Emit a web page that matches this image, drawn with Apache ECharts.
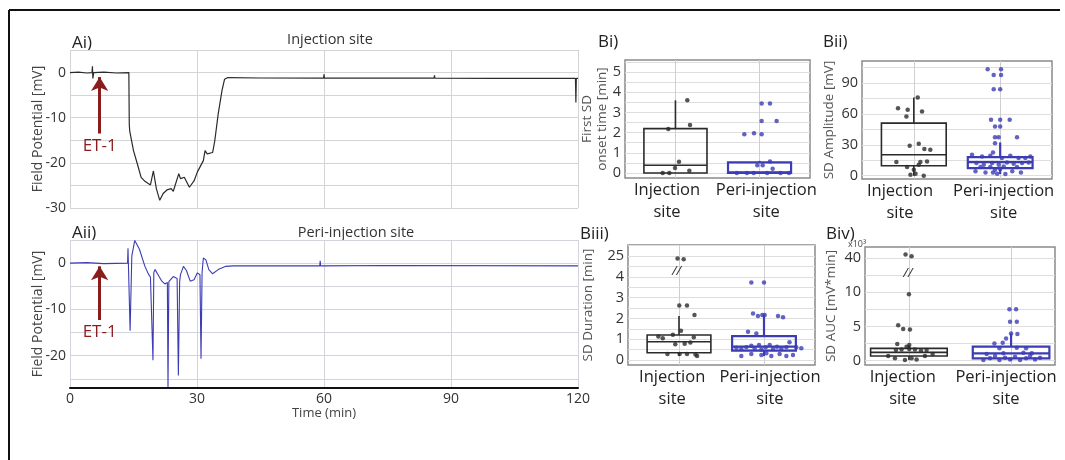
<!DOCTYPE html>
<html>
<head>
<meta charset="UTF-8">
<script src="https://cdn.jsdelivr.net/npm/echarts@6.0.0/dist/echarts.min.js"></script>
</head>
<body style="margin:0;background:#fff">
<div id="main" style="width:1065px;height:460px;"></div>
<script>
// ---- A: field potential traces (time in min, potential in mV)
var aiTime = [0, 2, 4, 5.2, 5.3, 5.4, 5.6, 8, 11, 13.9, 14.0, 14.1, 15.0, 15.9, 16.8, 17.7, 19.0, 19.7, 20.4, 21.2,
  22.0, 22.9, 23.9, 24.4, 25.7, 26.1, 27.0, 28.2, 29.3, 30.1, 31.5, 31.9, 32.4, 33.7, 34.2, 35.0, 35.9, 36.5, 37.3, 45,
  59.9, 60.0, 60.1, 75, 86.0, 86.1, 86.2, 100, 119.4, 119.5, 119.6, 120];
var aiMv = [0, 0.1, -0.1, 0, 1.4, -1.3, 0, 0.1, -0.1, 0, -11.4, -12.9, -17.3, -20.2, -23.2, -24.1, -24.9, -21.8, -25.7, -28.3,
  -26.8, -26.0, -25.7, -26.3, -22.4, -23.5, -23.2, -25.4, -24.0, -22.0, -19.5, -17.3, -18.0, -17.7, -15.1, -9.2, -4.0, -1.5, -1.1, -1.2,
  -1.25, -0.4, -1.25, -1.2, -1.25, -0.6, -1.25, -1.3, -1.3, -6.6, -1.3, -1.3];
var aiiTime = [0, 4, 8, 13.6, 13.7, 14.2, 14.6, 15.3, 16.4, 17.7, 18.6, 19.0, 19.4, 19.6, 19.8, 20.1, 20.8, 21.7, 22.4, 23.0,
  23.15, 23.35, 23.7, 24.4, 25.3, 25.6, 25.9, 26.1, 26.8, 27.5, 28.4, 29.3, 30.1, 30.7, 30.95, 31.2, 31.5, 32.1, 32.8, 33.7,
  35.0, 36.8, 38.6, 59.0, 59.1, 59.2, 75, 120];
var aiiMv = [0, 0.1, -0.1, 0, 3.2, -14.6, 1.5, 4.9, 3.0, -0.7, -2.5, -3.0, -3.0, -21.0, -2.0, -1.4, -2.5, -3.9, -4.5, -4.2,
  -26.8, -4.0, -3.6, -2.9, -3.3, -24.3, -4.0, -2.5, -0.7, -1.6, -3.9, -3.6, -2.1, -2.5, -20.7, -2.0, 1.1, 0.7, -1.4, -2.3,
  -1.4, -0.7, -0.6, -0.6, 0.5, -0.6, -0.5, -0.6];
var et1Time = 7;
var aiiGridVals = [-25, -20, -15, -10, -5, 0, 5];
var aiiLabelVals = [-20, -10, 0];

// ---- B: box stats [min, q1, median, q3, max] and jittered points (x = group 1 or 2 + jitter)
var biInjBox = [0, 0, 0.38, 2.2, 3.6];
var biPeriBox = [0, 0, 0.03, 0.52, 0.6];
var biInjX = [1.141, 1.173, 0.915, 1.042, 0.995, 1.165, 0.848, 0.927];
var biInjY = [3.61, 2.38, 2.18, 0.56, 0.25, 0.11, 0, 0];
var biPeriX = [2.025, 2.124, 2.025, 2.203, 1.819, 1.934, 2.025, 2.124, 1.973, 2.037, 2.156, 1.73, 1.85, 1.93, 2.09, 2.25, 2.35];
var biPeriY = [3.44, 3.44, 2.57, 2.57, 1.92, 1.97, 1.92, 0.57, 0.38, 0.38, 0.21, 0, 0, 0, 0, 0, 0];

var biiInjBox = [0, 9.7, 20.3, 51, 75.8];
var biiPeriBox = [1.6, 7.4, 13.2, 18, 32.3];
var biiInjX = [1.045, 0.817, 0.929, 1.095, 0.914, 1.057, 0.952, 1.122, 1.191, 0.798, 1.076, 1.153, 1.057, 0.922, 1.0, 0.961, 1.115, 1.02];
var biiInjY = [75.8, 65.5, 63.9, 62.3, 57.4, 31, 29, 25.8, 25.2, 13.2, 13.2, 13.9, 10.6, 8.4, 5.8, 1, 0, 1.9];
var biiPeriX = [1.855, 2.01, 1.925, 2.01, 1.925, 2.0, 1.894, 2.0, 2.11, 1.94, 2.0, 1.94, 1.983, 2.195, 1.94,
  1.674, 1.79, 1.885, 1.917, 2.02, 2.117, 2.213, 2.291, 2.349, 1.725, 1.81, 1.906, 1.983, 2.079, 2.156, 2.253, 2.33,
  1.772, 1.886, 2.04, 2.195, 1.714, 1.83, 1.917, 1.965, 2.06, 2.14, 2.24, 1.94, 2.0];
var biiPeriY = [103.2, 103.2, 97.7, 97.7, 83.9, 83.9, 54.2, 54.2, 54.2, 47.7, 47.7, 37.4, 37.4, 37.4, 31.6,
  20.3, 18.7, 19.4, 22.6, 17.1, 19.4, 17.1, 17.1, 18.7, 12.3, 10.6, 12.3, 10.6, 12.9, 11.6, 12.3, 12.9,
  8.4, 8.4, 9, 8.4, 4.2, 3.2, 3.2, 1.9, 1.6, 4.2, 3.2, 5.8, 6.5];

var biiiInjBox = [0.19, 0.35, 0.88, 1.2, 2.12];
var biiiPeriBox = [0.19, 0.45, 0.64, 1.15, 2.16];
var biiiInjX = [0.983, 1.055, 1.003, 1.094, 1.182, 1.023, 0.757, 0.809, 0.928, 1.174, 0.956, 1.067, 1.134, 0.864, 1.007, 1.094, 1.194, 1.213];
var biiiInjY = [24.5, 24.4, 2.62, 2.62, 2.17, 1.41, 1.13, 1.05, 1.22, 1.09, 0.76, 0.78, 0.84, 0.29, 0.29, 0.29, 0.26, 0.19];
var biiiPeriX = [1.851, 2.0, 1.871, 1.929, 1.98, 2.008, 2.165, 2.224, 1.812, 1.91, 2.30,
  1.675, 1.733, 1.792, 1.851, 1.89, 1.941, 1.969, 2.02, 2.067, 2.106, 2.153, 2.204, 2.263, 2.38, 2.439,
  1.733, 1.851, 1.969, 2.027, 2.086, 2.184, 2.263, 2.341];
var biiiPeriY = [3.73, 3.73, 2.24, 2.12, 2.16, 2.16, 2.12, 2.05, 1.36, 1.28, 0.85,
  0.59, 0.53, 0.61, 0.69, 0.56, 0.72, 0.51, 0.61, 0.72, 0.53, 0.64, 0.56, 0.61, 0.61, 0.56,
  0.19, 0.29, 0.24, 0.32, 0.19, 0.29, 0.19, 0.24];

var bivInjBox = [0.1, 0.68, 1.21, 1.8, 2.28];
var bivPeriBox = [0.05, 0.34, 1.07, 2.04, 3.98];
var bivInjX = [0.967, 1.026, 1.0, 0.895, 0.944, 1.01, 0.886, 1.003, 0.977, 0.873, 0.928, 1.003, 1.059, 1.118, 1.173, 1.232, 0.797, 0.863, 0.961, 1.026, 1.075, 1.157];
var bivInjY = [42, 41, 9.7, 5.19, 4.61, 4.56, 2.43, 2.28, 2.04, 1.55, 1.65, 1.70, 1.65, 1.46, 1.55, 0.97, 0.68, 0.34, 0.1, 0.34, 0.19, 0.68];
var bivPeriX = [1.984, 2.049, 1.99, 2.056, 2.0, 2.062, 1.918, 1.951, 1.837, 1.886, 2.056, 2.147, 1.761, 1.925, 2.121, 2.203,
  1.729, 1.794, 1.843, 1.886, 1.941, 1.99, 2.039, 2.088, 2.147, 2.186, 2.235, 2.284];
var bivPeriY = [7.52, 7.52, 5.68, 5.68, 3.98, 3.88, 2.62, 3.25, 2.52, 1.80, 1.89, 1.8, 0.97, 1.07, 1.17, 1.07,
  0.1, 0.34, 0.68, 0.1, 0.44, 0.19, 0.58, 0.1, 0.34, 0.68, 0.19, 0.44];

var groupLabels = ['Injection\nsite', 'Peri-injection\nsite'];

// broken y axes in Biii / Biv: top segment squeezed
function brk3(v) { return v > 5 ? 5 + (v - 25) / 4 : v; }
function brk4(v) { return v > 12 ? 15 + (v - 40) / 4 : v; }

var FONT = '"Open Sans", "Noto Sans", sans-serif';
var INK = '#2b2b2b';
var BLUE = '#3c3cb4';
var RED = '#8b1c1c';

function pairs(xs, ys, f) {
  return xs.map(function (x, i) { return [x, f ? f(ys[i]) : ys[i]]; });
}

function boxRender(color, lw) {
  return function (params, api) {
    var x = api.value(0);
    var lo = api.coord([x, api.value(1)]);
    var q1 = api.coord([x, api.value(2)]);
    var md = api.coord([x, api.value(3)]);
    var q3 = api.coord([x, api.value(4)]);
    var hi = api.coord([x, api.value(5)]);
    var hw = api.size([0.75, 0])[0] / 2;
    var st = { stroke: color, lineWidth: lw, fill: null };
    return {
      type: 'group', children: [
        { type: 'line', shape: { x1: md[0], y1: hi[1], x2: md[0], y2: q3[1] }, style: st },
        { type: 'line', shape: { x1: md[0], y1: q1[1], x2: md[0], y2: lo[1] }, style: st },
        { type: 'rect', shape: { x: md[0] - hw, y: q3[1], width: 2 * hw, height: q1[1] - q3[1] }, style: st },
        { type: 'line', shape: { x1: md[0] - hw, y1: md[1], x2: md[0] + hw, y2: md[1] }, style: st }
      ]
    };
  };
}

function boxSeries(g, x, stats, color, lw) {
  return {
    type: 'custom', xAxisIndex: g, yAxisIndex: g, z: 2, silent: true,
    renderItem: boxRender(color, lw),
    encode: { x: 0, y: [1, 2, 3, 4, 5] },
    data: [[x].concat(stats)]
  };
}

function dots(g, data, color, extra) {
  var s = {
    type: 'scatter', xAxisIndex: g, yAxisIndex: g, z: 3, silent: true,
    symbolSize: 4.5, itemStyle: { color: color }, data: data
  };
  return Object.assign(s, extra || {});
}

// labelAt: where the two group labels sit (they are spread a bit wider than the groups)
function bX(g, min, max, labelAt) {
  return {
    type: 'value', gridIndex: g, min: min, max: max, nameMoveOverlap: false,
    axisLine: { show: false }, axisTick: { show: false, customValues: [1, 2] },
    splitLine: { show: true, lineStyle: { color: '#cfcfcf', width: 1 } },
    axisLabel: {
      customValues: labelAt, formatter: function (v) { return groupLabels[v < 1.5 ? 0 : 1]; },
      showMinLabel: true, showMaxLabel: true, hideOverlap: false,
      fontSize: 16.5, lineHeight: 22, color: '#222', margin: 1, fontFamily: FONT
    }
  };
}

function bY(g, min, max, gridVals, labelVals, fmt, name, gap) {
  return {
    type: 'value', gridIndex: g, min: min, max: max, nameMoveOverlap: false,
    axisLine: { show: false }, axisTick: { show: false, customValues: gridVals },
    splitLine: { show: true, lineStyle: { color: '#dedede', width: 1 } },
    axisLabel: { customValues: labelVals, formatter: fmt, fontSize: 14.5, color: '#333', margin: 4, fontFamily: FONT },
    name: name, nameLocation: 'middle', nameGap: gap,
    nameTextStyle: { fontSize: 13.5, color: '#555', lineHeight: 15, fontFamily: FONT }
  };
}

function seq(a, b, s) { var r = []; for (var v = a; v <= b + 1e-9; v += s) r.push(+v.toFixed(3)); return r; }

var bBorder = { show: true, borderColor: '#8a8a8a', borderWidth: 1.5, backgroundColor: 'transparent' };

var chart = echarts.init(document.getElementById('main'));
chart.setOption({
  animation: false,
  backgroundColor: '#fff',
  textStyle: { fontFamily: FONT },
  grid: [
    { left: 70, top: 50, width: 508, height: 158, outerBoundsMode: 'none' },
    { left: 70, top: 240, width: 508, height: 148, outerBoundsMode: 'none' },
    Object.assign({ left: 625, top: 60, width: 185, height: 118, outerBoundsMode: 'none' }, bBorder),
    Object.assign({ left: 862, top: 61, width: 190, height: 118, outerBoundsMode: 'none' }, bBorder),
    Object.assign({ left: 628, top: 245, width: 187, height: 120, outerBoundsMode: 'none' }, bBorder),
    Object.assign({ left: 865, top: 247, width: 190, height: 118, outerBoundsMode: 'none' }, bBorder)
  ],
  xAxis: [
    { type: 'value', gridIndex: 0, min: 0, max: 120, interval: 30, axisLine: { show: false }, axisTick: { show: false },
      axisLabel: { show: false }, splitLine: { lineStyle: { color: '#d4d4d4' } } },
    { type: 'value', gridIndex: 1, min: 0, max: 120, interval: 30, nameMoveOverlap: false,
      axisLine: { show: true, onZero: false, lineStyle: { color: '#111', width: 2 } }, axisTick: { show: false },
      axisLabel: { fontSize: 14, color: '#333', margin: 4 }, splitLine: { lineStyle: { color: '#d4d4dc' } },
      name: 'Time (min)', nameLocation: 'middle', nameGap: 19, nameTextStyle: { fontSize: 13, color: '#444' } },
    bX(2, 0.4, 2.6, [0.9, 2.08]), bX(3, 0.4, 2.6, [0.84, 2.04]),
    bX(4, 0.4, 2.6, [0.92, 2.07]), bX(5, 0.57, 2.43, [0.94, 1.95])
  ],
  yAxis: [
    { type: 'value', gridIndex: 0, min: -30, max: 5, interval: 5, nameMoveOverlap: false,
      axisLine: { show: false }, axisTick: { show: false },
      axisLabel: { fontSize: 14, color: '#333', margin: 4, formatter: function (v) { return v % 10 === 0 ? v : ''; } },
      splitLine: { lineStyle: { color: '#d4d4d4' } },
      name: 'Field Potential [mV]', nameLocation: 'middle', nameGap: 25, nameTextStyle: { fontSize: 14, color: '#444' } },
    { type: 'value', gridIndex: 1, min: -27, max: 5, nameMoveOverlap: false,
      axisLine: { show: false }, axisTick: { show: false, customValues: aiiGridVals },
      axisLabel: { customValues: aiiLabelVals, fontSize: 14, color: '#333', margin: 4 },
      splitLine: { lineStyle: { color: '#d4d4dc' } },
      name: 'Field Potential [mV]', nameLocation: 'middle', nameGap: 25, nameTextStyle: { fontSize: 14, color: '#444' } },
    bY(2, -0.25, 5.6, seq(0, 5.5, 0.5), [0, 1, 2, 3, 4, 5], null, 'First SD\nonset time [min]', 15),
    bY(3, -3.2, 111.3, seq(0, 105, 15), [0, 30, 60, 90], null, 'SD Amplitude [mV]', 25),
    bY(4, -0.24, 5.53, seq(0, 5.5, 0.5), [0, 1, 2, 3, 4, 5], function (v) { return v === 5 ? '25' : v; }, 'SD Duration [min]', 32),
    bY(5, -0.63, 16.6, seq(0, 15, 2.5), [0, 5, 10, 15], function (v) { return v === 15 ? '40' : v; }, 'SD AUC [mV*min]', 26)
  ],
  series: [
    { type: 'line', xAxisIndex: 0, yAxisIndex: 0, showSymbol: false, silent: true, z: 3,
      lineStyle: { color: INK, width: 1.2 }, data: pairs(aiTime, aiMv),
      markLine: { silent: true, symbol: ['none', 'arrow'], symbolSize: [13, 14], animation: false,
        lineStyle: { color: RED, width: 3, type: 'solid' },
        label: { show: true, position: 'start', formatter: 'ET-1', color: RED, fontSize: 17, distance: 4 },
        data: [[{ coord: [et1Time, -13.5] }, { coord: [et1Time, -1.0] }]] } },
    { type: 'line', xAxisIndex: 1, yAxisIndex: 1, showSymbol: false, silent: true, z: 3,
      lineStyle: { color: BLUE, width: 1.1 }, data: pairs(aiiTime, aiiMv),
      markLine: { silent: true, symbol: ['none', 'arrow'], symbolSize: [13, 14], animation: false,
        lineStyle: { color: RED, width: 3, type: 'solid' },
        label: { show: true, position: 'start', formatter: 'ET-1', color: RED, fontSize: 17, distance: 4 },
        data: [[{ coord: [et1Time, -12.3] }, { coord: [et1Time, -0.7] }]] } },

    boxSeries(2, 1, biInjBox, INK, 1.6), boxSeries(2, 2, biPeriBox, BLUE, 2.2),
    dots(2, pairs(biInjX, biInjY), INK), dots(2, pairs(biPeriX, biPeriY), BLUE),

    boxSeries(3, 1, biiInjBox, INK, 1.6), boxSeries(3, 2, biiPeriBox, BLUE, 2.2),
    dots(3, pairs(biiInjX, biiInjY), INK), dots(3, pairs(biiPeriX, biiPeriY), BLUE),

    boxSeries(4, 1, biiiInjBox, INK, 1.6), boxSeries(4, 2, biiiPeriBox, BLUE, 2.2),
    dots(4, pairs(biiiInjX, biiiInjY, brk3), INK, {
      markPoint: { silent: true, symbol: 'circle', symbolSize: 1, itemStyle: { color: 'transparent' },
        label: { show: true, formatter: '//', position: 'inside', color: '#333', fontSize: 13, fontStyle: 'italic' },
        data: [{ coord: [0.97, 4.25] }] } }),
    dots(4, pairs(biiiPeriX, biiiPeriY, brk3), BLUE),

    boxSeries(5, 1, bivInjBox, INK, 1.6), boxSeries(5, 2, bivPeriBox, BLUE, 2.2),
    dots(5, pairs(bivInjX, bivInjY, brk4), INK, {
      markPoint: { silent: true, symbol: 'circle', symbolSize: 1, itemStyle: { color: 'transparent' },
        label: { show: true, formatter: '//', position: 'inside', color: '#333', fontSize: 13, fontStyle: 'italic' },
        data: [{ coord: [0.99, 12.7] }] } }),
    dots(5, pairs(bivPeriX, bivPeriY, brk4), BLUE)
  ],
  graphic: [
    { type: 'line', shape: { x1: 9, y1: 10, x2: 9, y2: 460 }, style: { stroke: '#111', lineWidth: 2 } },
    { type: 'line', shape: { x1: 9, y1: 10, x2: 1060, y2: 10 }, style: { stroke: '#111', lineWidth: 2 } },
    { type: 'text', x: 72, y: 43, style: { text: 'Ai)', fontSize: 17, fill: '#222', verticalAlign: 'middle', fontFamily: FONT } },
    { type: 'text', x: 330, y: 40, style: { text: 'Injection site', fontSize: 14.5, fill: '#333', align: 'center', verticalAlign: 'middle', fontFamily: FONT } },
    { type: 'text', x: 72, y: 233, style: { text: 'Aii)', fontSize: 17, fill: '#222', verticalAlign: 'middle', fontFamily: FONT } },
    { type: 'text', x: 356, y: 233, style: { text: 'Peri-injection site', fontSize: 14.5, fill: '#333', align: 'center', verticalAlign: 'middle', fontFamily: FONT } },
    { type: 'text', x: 598, y: 42, style: { text: 'Bi)', fontSize: 17, fill: '#222', verticalAlign: 'middle', fontFamily: FONT } },
    { type: 'text', x: 823, y: 42, style: { text: 'Bii)', fontSize: 17, fill: '#222', verticalAlign: 'middle', fontFamily: FONT } },
    { type: 'text', x: 580, y: 234, style: { text: 'Biii)', fontSize: 17, fill: '#222', verticalAlign: 'middle', fontFamily: FONT } },
    { type: 'text', x: 826, y: 234, style: { text: 'Biv)', fontSize: 17, fill: '#222', verticalAlign: 'middle', fontFamily: FONT } },
    { type: 'text', x: 848, y: 244, style: { text: 'x10³', fontSize: 9, fill: '#444', verticalAlign: 'middle', fontFamily: FONT } }
  ]
});
</script>
</body>
</html>
